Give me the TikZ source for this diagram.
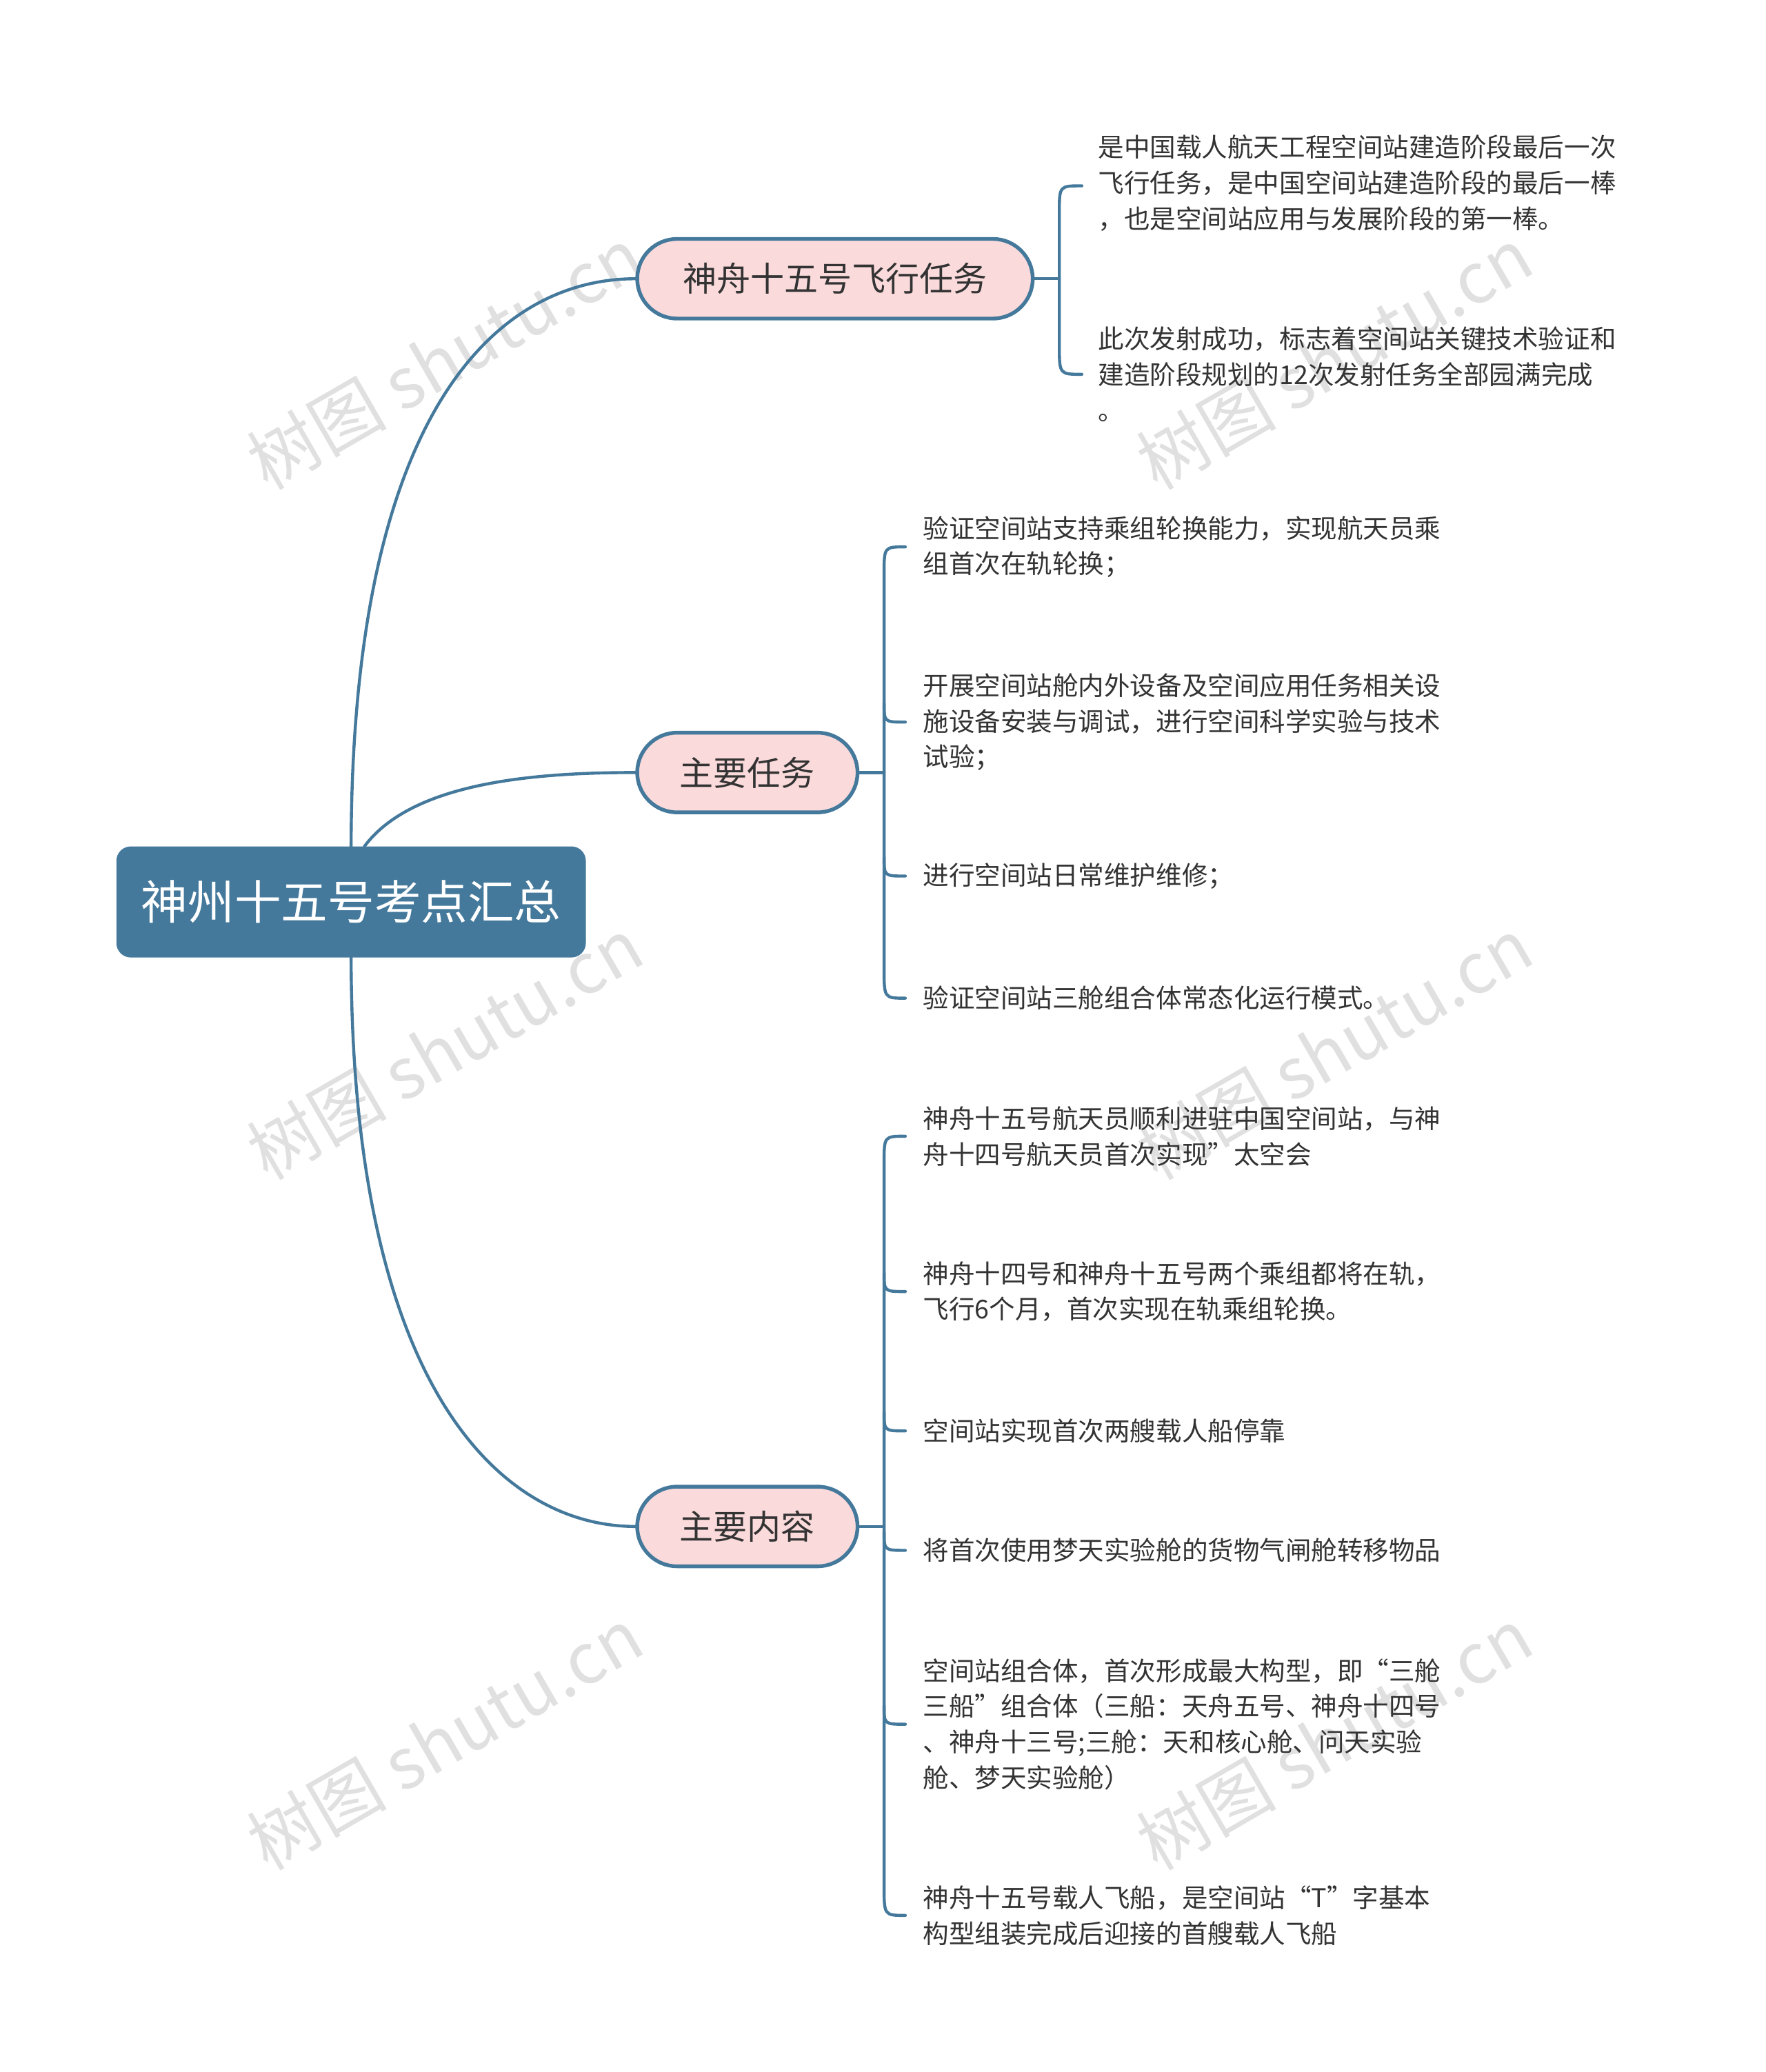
\documentclass[tikz,border=0pt]{standalone}
\usepackage{fontspec}
\setmainfont{Noto Sans CJK SC}
\definecolor{mainblue}{HTML}{44799C}
\definecolor{pinkfill}{HTML}{FADADB}
\definecolor{leaftext}{HTML}{333333}
\tikzset{
  rootbox/.style={fill=mainblue, draw=mainblue, rounded corners=6pt, text=white, font=\fontsize{20}{24}\selectfont, minimum width=7.06cm, minimum height=1.66cm},
  branchbox/.style={fill=pinkfill, draw=mainblue, line width=1.6pt, rounded corners=0.6cm, font=\fontsize{14.5}{18}\selectfont, minimum height=1.2cm, text=leaftext},
  leafbox/.style={anchor=west, align=left, font=\fontsize{11.1}{15.3}\selectfont, text=leaftext, inner sep=0pt},
  link/.style={draw=mainblue, line width=1.3pt},
  mark wm/.style={text=black!12, font=\fontsize{30}{30}\selectfont, rotate=30}
}
\begin{document}
\begin{tikzpicture}[x=0.02cm, y=-0.02cm, line cap=round, line join=round]
  \useasboundingbox (0,0) rectangle (1330,1561);
  % watermarks
  \foreach \wx/\wy in {335/270, 1005/270, 335/790, 1005/790, 335/1310, 1005/1310}
    \node[mark wm] at (\wx,\wy) {树图 shutu.cn};
  % root and branches
  \node[rootbox] (root) at (264.5,679.5) {神州十五号考点汇总};
  \node[branchbox, minimum width=5.96cm] (task) at (629,210) {神舟十五号飞行任务};
  \node[branchbox, minimum width=3.32cm] (main) at (563,582) {主要任务};
  \node[branchbox, minimum width=3.32cm] (content) at (563,1150) {主要内容};
  \draw[link] (root.north) .. controls (265,300) and (380,210) .. (task.west);
  \draw[link] ([xshift=0.2cm]root.north) .. controls (310,590) and (400,582) .. (main.west);
  \draw[link] (root.south) .. controls (265,1050) and (380,1150) .. (content.west);
  % leaves of task
  \node[leafbox] (t1) at (827,138) {是中国载人航天工程空间站建造阶段最后一次\\飞行任务，是中国空间站建造阶段的最后一棒\\，也是空间站应用与发展阶段的第一棒。};
  \node[leafbox] (t2) at (827,282) {此次发射成功，标志着空间站关键技术验证和\\建造阶段规划的12次发射任务全部园满完成\\。};
  \coordinate (tb) at (798,210);
  \draw[link] (task.east) -- (tb);
  \draw[link] (815,140) .. controls (798,140) .. (798,160) -- (798,260) .. controls (798,282) .. (815,282);
  % leaves of main
  \node[leafbox] (m1) at (695,412) {验证空间站支持乘组轮换能力，实现航天员乘\\组首次在轨轮换；};
  \node[leafbox] (m2) at (695,544) {开展空间站舱内外设备及空间应用任务相关设\\施设备安装与调试，进行空间科学实验与技术\\试验；};
  \node[leafbox] (m3) at (695,660) {进行空间站日常维护维修；};
  \node[leafbox] (m4) at (695,752) {验证空间站三舱组合体常态化运行模式。};
  \coordinate (mb) at (666,582);
  \draw[link] (main.east) -- (mb);
  \draw[link] (682,412) .. controls (666,412) .. (666,432) -- (666,730) .. controls (666,752) .. (682,752);
  \draw[link] (666,530) .. controls (666,544) .. (682,544);
  \draw[link] (666,646) .. controls (666,660) .. (682,660);
  % leaves of content
  \node[leafbox] (c1) at (695,856) {神舟十五号航天员顺利进驻中国空间站，与神\\舟十四号航天员首次实现”太空会};
  \node[leafbox] (c2) at (695,973) {神舟十四号和神舟十五号两个乘组都将在轨，\\飞行6个月，首次实现在轨乘组轮换。};
  \node[leafbox] (c3) at (695,1078) {空间站实现首次两艘载人船停靠};
  \node[leafbox] (c4) at (695,1168) {将首次使用梦天实验舱的货物气闸舱转移物品};
  \node[leafbox] (c5) at (695,1299) {空间站组合体，首次形成最大构型，即“三舱\\三船”组合体（三船：天舟五号、神舟十四号\\、神舟十三号;三舱：天和核心舱、问天实验\\舱、梦天实验舱）};
  \node[leafbox] (c6) at (695,1443) {神舟十五号载人飞船，是空间站“T”字基本\\构型组装完成后迎接的首艘载人飞船};
  \coordinate (cb) at (666,1150);
  \draw[link] (content.east) -- (cb);
  \draw[link] (682,856) .. controls (666,856) .. (666,876) -- (666,1421) .. controls (666,1443) .. (682,1443);
  \foreach \ly in {973,1078,1168,1299}
    \draw[link] (666,\ly-14) .. controls (666,\ly) .. (682,\ly);
\end{tikzpicture}
\end{document}
